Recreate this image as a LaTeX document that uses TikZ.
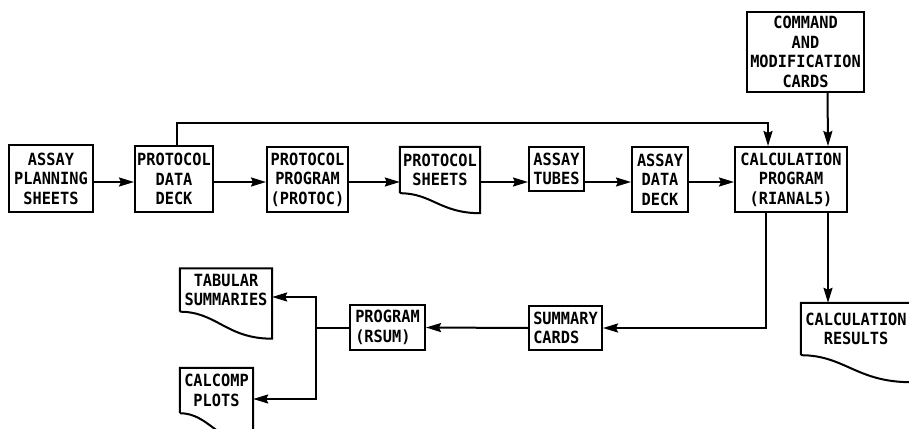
\documentclass[tikz,border=0pt]{standalone}
\usepackage{fontspec}
\newfontfamily\lettering[FakeStretch=0.91]{DejaVu Sans Mono Bold}
\usetikzlibrary{arrows.meta}

\begin{document}
\begin{tikzpicture}[
    x=1pt, y=-1pt,
    font=\lettering\fontsize{16.8}{19.5}\selectfont,
    box/.style={rectangle, draw=black, line width=2pt, inner sep=0pt, align=center},
    doc/.style={rectangle, draw=none, inner sep=0pt, align=center},
    boxline/.style={line width=2pt, line join=miter},
    arrow/.style={line width=2pt, -{Stealth[length=15pt, width=9pt, inset=2pt]}}
]
\clip (0, 0) rectangle (909, 428);

% --- Nodes ---
% Main row
\node (plan) at (51, 178.5) [box, minimum width=84pt, minimum height=67pt] {ASSAY\\PLANNING\\SHEETS};
\node (pdeck) at (174, 179) [box, minimum width=78pt, minimum height=66pt] {PROTOCOL\\DATA\\DECK};
\node (pprog) at (307.5, 179.5) [box, minimum width=81pt, minimum height=65pt] {PROTOCOL\\PROGRAM\\(PROTOC)};
\node (psheets) at (440, 170) [doc, minimum width=80pt, minimum height=46pt] {PROTOCOL\\SHEETS};
\node (tubes) at (556.5, 169) [box, minimum width=55pt, minimum height=44pt] {ASSAY\\TUBES};
\node (adeck) at (660, 179.5) [box, minimum width=56pt, minimum height=65pt] {ASSAY\\DATA\\DECK};
\node (calc) at (791, 179.5) [box, minimum width=112pt, minimum height=65pt] {CALCULATION\\PROGRAM\\(RIANAL5)};

% Inputs and outputs of the calculation
\node (cmd) at (805.5, 52) [box, minimum width=117pt, minimum height=80pt] {COMMAND\\AND\\MODIFICATION\\CARDS};
\node (results) at (856, 329) [doc, minimum width=110pt, minimum height=52pt] {CALCULATION\\RESULTS};

% Summary row
\node (cards) at (565.5, 328) [box, minimum width=73pt, minimum height=44pt, align=left] {SUMMARY\\CARDS};
\node (rsum) at (387.5, 327.5) [box, minimum width=75pt, minimum height=45pt, align=left] {PROGRAM\\(RSUM)};
\node (tabular) at (226, 290) [doc, minimum width=92pt, minimum height=43pt] {TABULAR\\SUMMARIES};
\node (calcomp) at (216.5, 390.5) [doc, minimum width=73pt, minimum height=45pt] {CALCOMP\\PLOTS};

% --- Document outlines ---
\draw [boxline] (psheets.south west) |- (psheets.north east) -- ([yshift=-20pt]psheets.south east) .. controls +(-40, 0) and +(32, 0) .. (psheets.south west);
\draw [boxline] (results.south west) |- (results.north east) -- ([yshift=-27pt]results.south east) .. controls +(-55, 0) and +(44, 0) .. (results.south west);
\draw [boxline] (tabular.south west) |- (tabular.north east) -- ([yshift=-27pt]tabular.south east) .. controls +(-46, 0) and +(37, 0) .. (tabular.south west);
\draw [boxline] (calcomp.south west) |- (calcomp.north east) -- ([yshift=-30pt]calcomp.south east) .. controls +(-36, 0) and +(29, 0) .. (calcomp.south west);

% --- Edges ---
\coordinate (row) at (0, 182);
\draw [arrow] (plan.east |- row) -- (pdeck.west |- row);
\draw [arrow] (pdeck.east |- row) -- (pprog.west |- row);
\draw [arrow] (pprog.east |- row) -- (psheets.west |- row);
\draw [arrow] (psheets.east |- row) -- (tubes.west |- row);
\draw [arrow] (tubes.east |- row) -- (adeck.west |- row);
\draw [arrow] (adeck.east |- row) -- (calc.west |- row);

% Loop over the top
\draw [arrow] ([xshift=3pt]pdeck.north) -- ++(0, -22) -| ([xshift=-23pt]calc.north);
\draw [arrow] ([xshift=22pt]cmd.south) -- ([xshift=37pt]calc.north);

% Outputs
\draw [arrow] ([xshift=37pt]calc.south) -- ([xshift=-28pt]results.north);
\draw [arrow] ([xshift=-25pt]calc.south) |- (cards.east);
\draw [arrow] (cards.west) -- (rsum.east);

% Split to the reports
\draw [arrow] (rsum.west) -- ++(-33, 0) |- ([yshift=-7pt]tabular.east);
\draw [arrow] (rsum.west) -- ++(-33, 0) |- ([yshift=-8.5pt]calcomp.east);

\end{tikzpicture}
\end{document}
